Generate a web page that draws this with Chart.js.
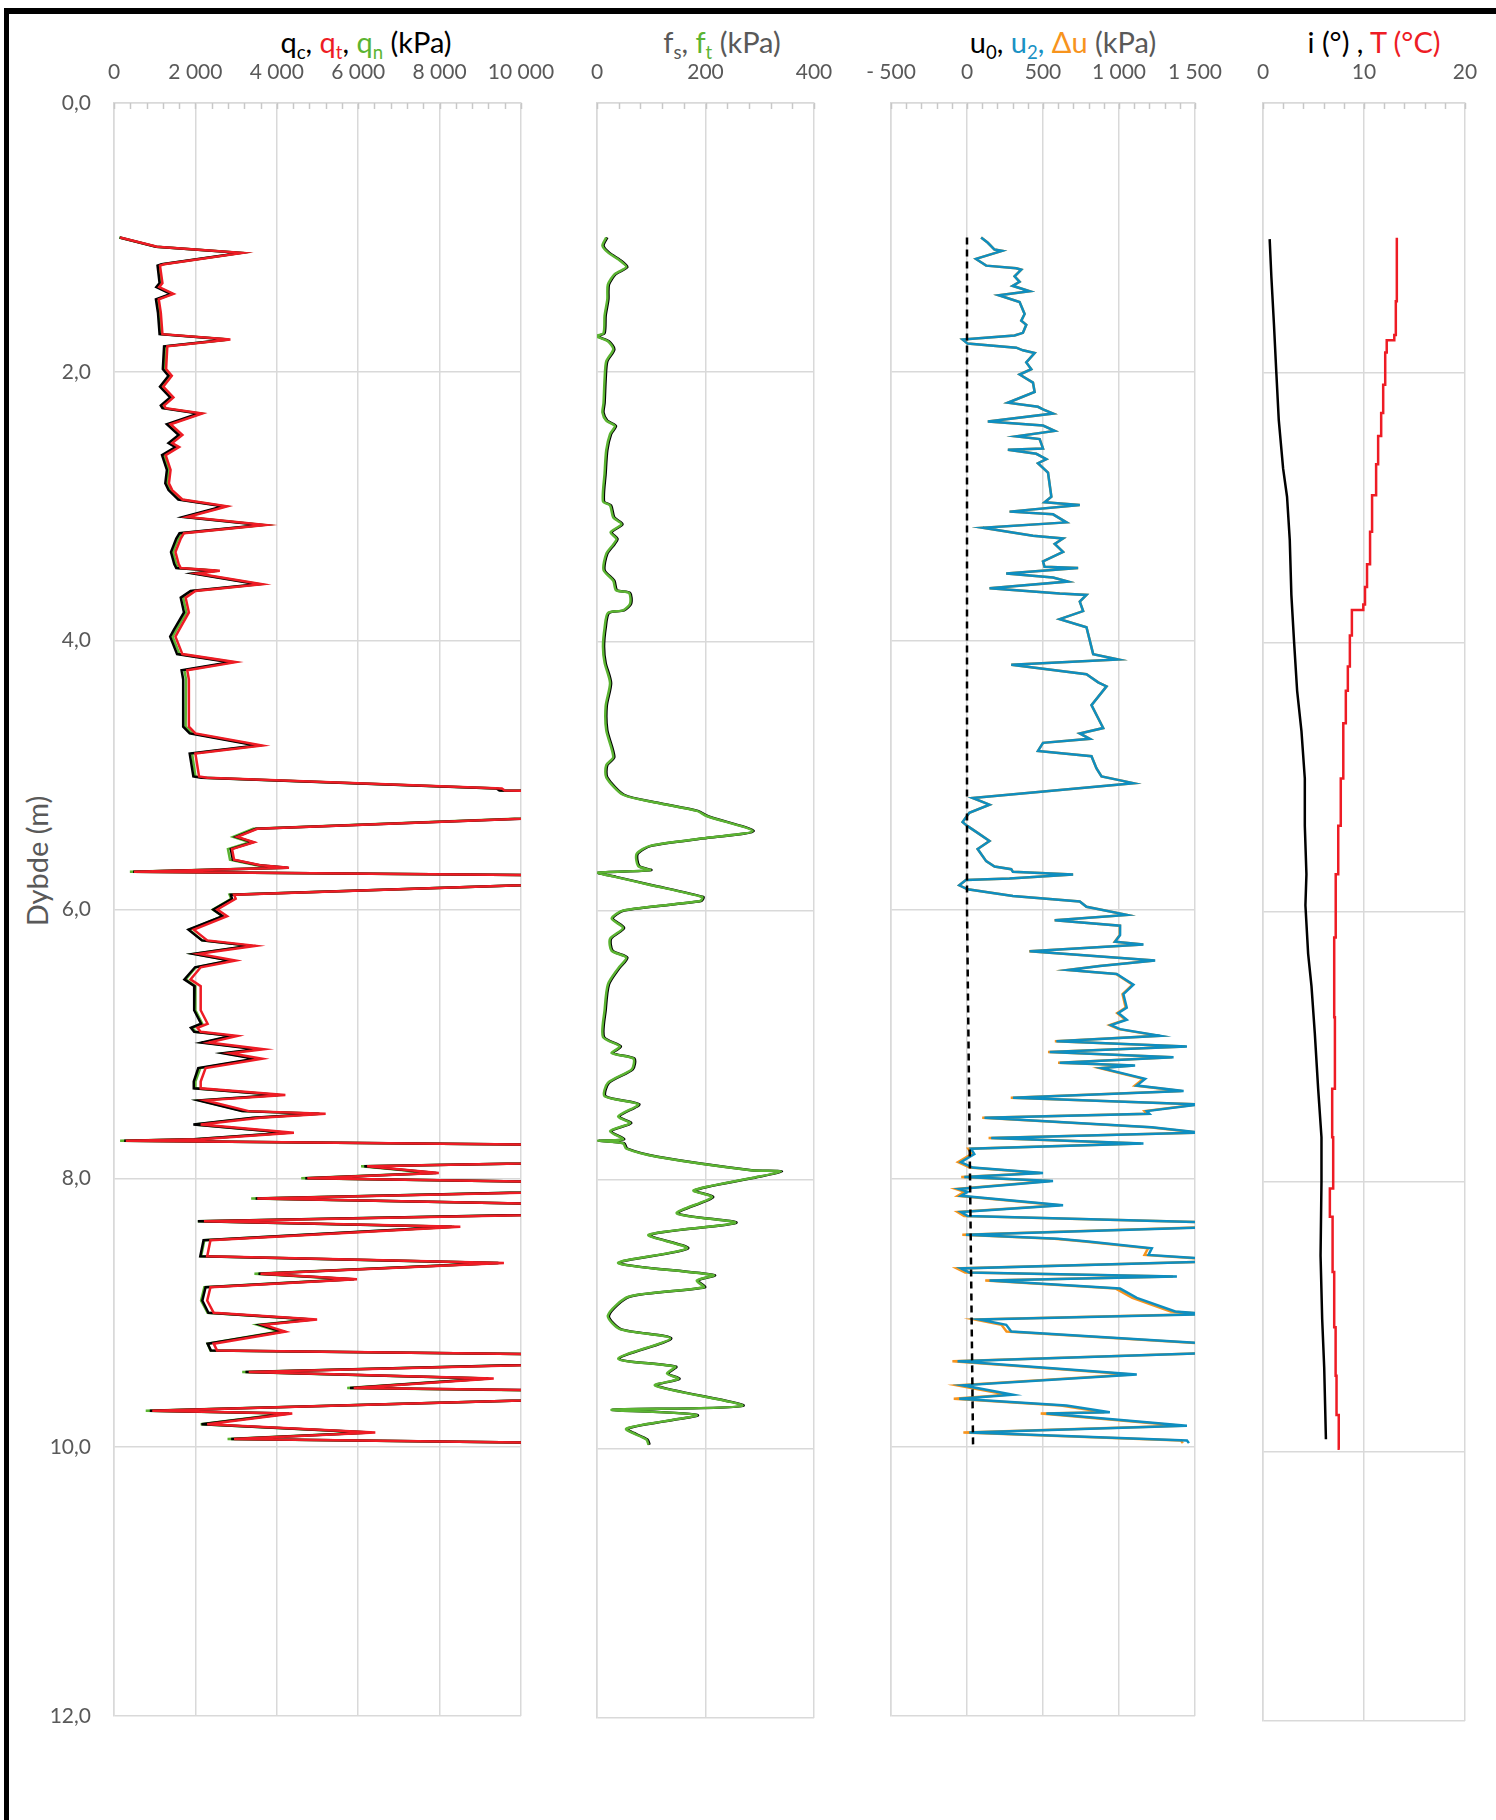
<!DOCTYPE html>
<html>
<head>
<meta charset="utf-8">
<script src="https://cdn.jsdelivr.net/npm/chart.js@4.4.1/dist/chart.umd.min.js"></script>
<style>
  html, body { margin: 0; padding: 0; background: #fff; }
  body { width: 1496px; height: 1820px; position: relative; overflow: hidden; font-family: Lato, "Open Sans", sans-serif; }
  .frame { position: absolute; left: 4px; top: 8px; width: 3000px; height: 3000px; border-left: 5px solid #000; border-top: 6px solid #000; }
  canvas { position: absolute; top: 0; }
  .ttl { position: absolute; top: 25px; font-size: 29px; line-height: 34px; white-space: nowrap; transform: translateX(-50%); color: #000; }
  .ttl sub { font-size: 0.64em; vertical-align: -0.32em; line-height: 0; }
  .gray { color: #595959; }
  .red { color: #ee1c25; }
  .green { color: #5bb432; }
  .blue { color: #1a91c4; }
  .orange { color: #f7941d; }
  .ylab { position: absolute; left: 36px; top: 861px; transform: translate(-50%, -50%) rotate(-90deg); font-size: 29px; color: #595959; white-space: nowrap; }
</style>
</head>
<body>
<div class="frame"></div>

<div class="ttl" style="left:366px">q<sub>c</sub>, <span class="red">q<sub>t</sub></span>, <span class="green">q<sub>n</sub></span> (kPa)</div>
<div class="ttl gray" style="left:722px">f<sub>s</sub>, <span class="green">f<sub>t</sub></span> (kPa)</div>
<div class="ttl gray" style="left:1063px"><span style="color:#000">u<sub>0</sub>,</span> <span class="blue">u<sub>2</sub>,</span> <span class="orange">Δu</span> (kPa)</div>
<div class="ttl" style="left:1374px">i (°) , <span class="red">T (°C)</span></div>
<div class="ylab">Dybde (m)</div>

<canvas id="qChart" width="576" height="1760" style="left:0px"></canvas>
<canvas id="fChart" width="300" height="1760" style="left:557px"></canvas>
<canvas id="uChart" width="400" height="1760" style="left:843px"></canvas>
<canvas id="iChart" width="278" height="1760" style="left:1222px"></canvas>

<script>
// tick labels
var depthTicks = ["0,0", "2,0", "4,0", "6,0", "8,0", "10,0", "12,0"];
var qTicks = ["0", "2 000", "4 000", "6 000", "8 000", "10 000"];
var fTicks = ["0", "200", "400"];
var uTicks = ["- 500", "0", "500", "1 000", "1 500"];
var iTicks = ["0", "10", "20"];

// cone resistance (kPa) vs depth (m)
var qDepth = [1.00, 1.07, 1.09, 1.115, 1.20, 1.21, 1.34, 1.37, 1.42, 1.46, 1.56, 1.72, 1.76, 1.81, 1.98, 2.03, 2.11, 2.19, 2.25, 2.27,
  2.31, 2.39, 2.47, 2.53, 2.56, 2.62, 2.73, 2.83, 2.88, 2.95, 3.00, 3.02, 3.08, 3.14, 3.20, 3.24, 3.34, 3.43, 3.46, 3.48,
  3.50, 3.58, 3.63, 3.68, 3.79, 3.92, 3.97, 4.10, 4.16, 4.22, 4.29, 4.64, 4.69, 4.78, 4.84, 5.01, 5.02, 5.10, 5.115, 5.125,
  5.29, 5.40, 5.46, 5.50, 5.55, 5.63, 5.67, 5.69, 5.72, 5.75, 5.79, 5.89, 5.92, 6.00, 6.05, 6.15, 6.23, 6.27, 6.33, 6.38,
  6.43, 6.52, 6.57, 6.75, 6.85, 6.88, 6.91, 6.94, 6.99, 7.04, 7.07, 7.11, 7.18, 7.28, 7.33, 7.38, 7.42, 7.50, 7.52, 7.55,
  7.60, 7.66, 7.71, 7.72, 7.76, 7.87, 7.91, 7.96, 8.00, 8.04, 8.08, 8.15, 8.21, 8.25, 8.32, 8.36, 8.46, 8.58, 8.63, 8.71,
  8.75, 8.81, 8.91, 9.00, 9.05, 9.09, 9.14, 9.23, 9.28, 9.32, 9.36, 9.44, 9.49, 9.56, 9.59, 9.62, 9.73, 9.75, 9.83, 9.89,
  9.94, 9.98];
var qt = [150, 1060, 2000, 3150, 1230, 1130, 1190, 1110, 1460, 1100, 1150, 1190, 2860, 1310, 1280, 1420, 1210, 1460, 1230, 1270,
  2170, 1390, 1680, 1430, 1600, 1270, 1390, 1350, 1430, 1680, 2780, 2540, 1800, 3720, 1720, 1640, 1510, 1590, 1640, 2600,
  2050, 3640, 2000, 1760, 1840, 1600, 1510, 1680, 2990, 1800, 1840, 1840, 2000, 3640, 2000, 2090, 2290, 9530, 9600, 13000,
  13000, 3520, 3030, 3440, 2900, 2950, 3600, 4300, 490, 13000, 13000, 2950, 2990, 2540, 2780, 1960, 2290, 3480, 2090, 2990,
  2130, 1880, 2130, 2130, 2300, 2050, 2130, 3030, 2330, 3680, 2860, 3640, 2250, 2130, 2130, 4210, 2250, 3310, 5200, 3600,
  2130, 4420, 2130, 290, 14000, 14000, 6220, 7980, 4750, 14000, 14000, 3520, 14000, 14000, 2210, 8510, 2370, 2290, 9580, 3600,
  5970, 2370, 2290, 2450, 4990, 3680, 4210, 2450, 2530, 14000, 14000, 3310, 9330, 5890, 14000, 14000, 940, 4380, 2290, 6420,
  2950, 14000];
var qc = [140, 1030, 1960, 3100, 1170, 1070, 1120, 1040, 1390, 1030, 1080, 1120, 2800, 1230, 1200, 1340, 1130, 1380, 1150, 1190,
  2080, 1300, 1590, 1340, 1510, 1180, 1300, 1260, 1340, 1580, 2680, 2440, 1700, 3620, 1610, 1530, 1400, 1480, 1530, 2490,
  1940, 3530, 1880, 1640, 1720, 1470, 1380, 1550, 2850, 1660, 1700, 1700, 1860, 3500, 1860, 1950, 2150, 9400, 9470, 12900,
  12950, 3490, 3000, 3410, 2870, 2920, 3570, 4270, 470, 12950, 12950, 2870, 2900, 2440, 2670, 1830, 2160, 3340, 1950, 2850,
  1990, 1730, 1980, 1970, 2140, 1890, 1970, 2870, 2150, 3500, 2680, 3460, 2070, 1960, 1960, 4030, 2080, 3140, 5030, 3420,
  1950, 4240, 1960, 250, 13900, 13900, 6150, 7920, 4700, 13900, 13900, 3480, 13900, 13900, 2060, 8300, 2200, 2120, 9450, 3550,
  5900, 2250, 2170, 2320, 4880, 3600, 4130, 2300, 2380, 13900, 13900, 3230, 9200, 5800, 13900, 13900, 880, 4300, 2150, 6320,
  2880, 13900];
var qn = [130, 1040, 1980, 3120, 1200, 1100, 1160, 1080, 1430, 1070, 1120, 1160, 2830, 1270, 1240, 1380, 1170, 1420, 1190, 1230,
  2130, 1350, 1640, 1390, 1560, 1230, 1340, 1300, 1380, 1630, 2730, 2490, 1750, 3670, 1660, 1580, 1450, 1530, 1580, 2540,
  1990, 3580, 1940, 1700, 1780, 1530, 1440, 1610, 2920, 1730, 1770, 1760, 1920, 3560, 1920, 2000, 2200, 9440, 9510, 12900,
  12900, 3420, 2930, 3340, 2800, 2850, 3500, 4200, 390, 12900, 12900, 2840, 2880, 2430, 2670, 1850, 2170, 3360, 1970, 2870,
  2010, 1760, 2000, 2000, 2170, 1920, 2000, 2900, 2200, 3550, 2730, 3510, 2120, 2000, 2000, 4070, 2110, 3170, 5060, 3460,
  1990, 4270, 1990, 150, 13850, 13850, 6070, 7830, 4600, 13850, 13850, 3370, 13850, 13850, 2060, 8360, 2220, 2140, 9430, 3450,
  5820, 2220, 2140, 2300, 4840, 3530, 4060, 2300, 2370, 13850, 13850, 3150, 9170, 5730, 13850, 13850, 780, 4220, 2130, 6260,
  2790, 13850];

// sleeve friction (kPa)
var fDepth = [1.00, 1.06, 1.11, 1.17, 1.22, 1.27, 1.35, 1.46, 1.58, 1.71, 1.73, 1.74, 1.77, 1.83, 1.92, 2.05, 2.23, 2.30, 2.36, 2.40,
  2.46, 2.58, 2.75, 2.96, 2.99, 3.08, 3.13, 3.19, 3.24, 3.28, 3.35, 3.47, 3.55, 3.62, 3.64, 3.72, 3.77, 3.79, 3.90, 4.04,
  4.16, 4.31, 4.48, 4.66, 4.86, 4.92, 5.01, 5.14, 5.20, 5.26, 5.30, 5.41, 5.46, 5.52, 5.58, 5.67, 5.70, 5.72, 5.75, 5.81,
  5.90, 5.93, 6.00, 6.06, 6.13, 6.21, 6.30, 6.35, 6.43, 6.55, 6.74, 6.94, 7.01, 7.06, 7.10, 7.18, 7.28, 7.38, 7.44, 7.53,
  7.58, 7.64, 7.70, 7.71, 7.73, 7.77, 7.83, 7.93, 7.94, 7.99, 8.08, 8.13, 8.25, 8.32, 8.41, 8.51, 8.62, 8.71, 8.75, 8.80,
  8.87, 9.01, 9.11, 9.18, 9.33, 9.39, 9.44, 9.48, 9.53, 9.68, 9.71, 9.75, 9.85, 9.93, 9.97];
var ft = [17, 10, 20, 42, 54, 33, 20, 19, 14, 12, 0, 2, 20, 30, 17, 14, 12, 10, 17, 33,
  24, 17, 14, 11, 24, 30, 45, 25, 36, 30, 17, 12, 30, 35, 59, 61, 48, 20, 14, 11,
  14, 24, 16, 17, 30, 17, 17, 48, 110, 184, 203, 287, 203, 98, 73, 76, 98, 0, 33, 98,
  194, 190, 48, 27, 48, 24, 27, 54, 39, 20, 14, 11, 42, 27, 67, 64, 20, 14, 76, 39,
  61, 24, 48, 0, 48, 54, 110, 283, 339, 283, 178, 212, 147, 255, 95, 166, 39, 215, 184, 197,
  58, 20, 42, 135, 39, 144, 129, 150, 107, 268, 27, 184, 54, 91, 95];
var fs = [19, 12, 22, 44, 56, 35, 22, 21, 16, 14, 2, 4, 22, 32, 19, 16, 14, 12, 19, 35,
  26, 19, 16, 13, 26, 32, 47, 27, 38, 32, 19, 14, 32, 37, 61, 63, 50, 22, 16, 13,
  16, 26, 18, 19, 32, 19, 19, 50, 112, 186, 205, 289, 205, 100, 75, 78, 100, 2, 35, 100,
  196, 192, 50, 29, 50, 26, 29, 56, 41, 22, 16, 13, 44, 29, 69, 66, 22, 16, 78, 41,
  63, 26, 50, 2, 50, 56, 112, 285, 341, 285, 180, 214, 149, 257, 97, 168, 41, 217, 186, 199,
  60, 22, 44, 137, 41, 146, 131, 152, 109, 270, 29, 186, 56, 93, 97];

// pore pressure (kPa)
var u0Depth = [1.00, 6.00, 10.00];
var u0 = [0, 0, 40];
var uDepth = [1.00, 1.04, 1.09, 1.10, 1.16, 1.21, 1.23, 1.24, 1.29, 1.33, 1.36, 1.40, 1.43, 1.48, 1.57, 1.62, 1.65, 1.71, 1.73, 1.76,
  1.79, 1.82, 1.84, 1.86, 1.93, 1.98, 2.02, 2.08, 2.15, 2.23, 2.26, 2.28, 2.31, 2.37, 2.40, 2.44, 2.48, 2.50, 2.57, 2.58,
  2.61, 2.65, 2.68, 2.75, 2.84, 2.93, 2.97, 2.99, 3.04, 3.06, 3.12, 3.16, 3.22, 3.24, 3.28, 3.34, 3.41, 3.45, 3.46, 3.50,
  3.53, 3.56, 3.61, 3.65, 3.66, 3.71, 3.78, 3.84, 3.90, 4.00, 4.10, 4.14, 4.18, 4.25, 4.31, 4.34, 4.48, 4.65, 4.69, 4.73,
  4.76, 4.82, 4.86, 4.95, 5.01, 5.06, 5.17, 5.22, 5.28, 5.35, 5.38, 5.43, 5.49, 5.55, 5.64, 5.68, 5.70, 5.72, 5.74, 5.77,
  5.78, 5.82, 5.85, 5.90, 5.94, 5.98, 6.04, 6.08, 6.12, 6.19, 6.24, 6.26, 6.31, 6.38, 6.42, 6.45, 6.48, 6.56, 6.63, 6.73,
  6.77, 6.82, 6.86, 6.89, 6.94, 6.98, 7.02, 7.06, 7.10, 7.14, 7.16, 7.18, 7.26, 7.31, 7.35, 7.40, 7.45, 7.50, 7.52, 7.55,
  7.62, 7.66, 7.70, 7.74, 7.78, 7.82, 7.88, 7.92, 7.96, 7.99, 8.02, 8.08, 8.10, 8.13, 8.20, 8.25, 8.28, 8.33, 8.36, 8.42,
  8.45, 8.47, 8.52, 8.57, 8.60, 8.62, 8.67, 8.70, 8.73, 8.76, 8.82, 8.89, 8.99, 9.01, 9.05, 9.09, 9.14, 9.23, 9.30, 9.36,
  9.46, 9.54, 9.61, 9.64, 9.69, 9.74, 9.75, 9.84, 9.89, 9.95, 9.97];
var u2 = [93, 137, 181, 231, 59, 126, 324, 357, 313, 346, 300, 412, 209, 346, 379, 357, 390, 368, 313, -29,
  4, 324, 368, 445, 390, 423, 346, 434, 445, 269, 467, 500, 566, 137, 500, 577, 324, 478, 500, 269,
  456, 522, 467, 533, 544, 555, 511, 742, 280, 566, 654, 104, 434, 632, 577, 632, 500, 510, 731, 258,
  566, 665, 148, 610, 786, 742, 764, 610, 786, 808, 830, 996, 291, 786, 863, 918, 819, 896, 742, 808,
  500, 467, 819, 852, 885, 1095, 37, 148, 15, -29, 4, 70, 148, 70, 126, 181, 291, 302, 698, 280,
  -7, -51, 4, 302, 742, 786, 1051, 577, 1007, 1007, 974, 1161, 412, 1238, 874, 665, 985, 1095, 1029, 1051,
  996, 1051, 947, 1007, 1271, 588, 1447, 544, 1359, 610, 1106, 885, 1172, 1117, 1425, 302, 1530, 1183, 1200, 115,
  1216, 1540, 159, 1161, 26, 48, -40, 37, 500, -18, 566, -51, 4, -40, 632, -40, 4, 1700, 1700, -7,
  600, 797, 1216, 1194, 1600, 1600, -40, 15, 1381, 148, 1007, 1117, 1370, 1600, 81, 258, 291, 1600, 1600, -62,
  1117, -29, 302, -51, 654, 940, 522, 1447, 15, 1447, 1460];
var du = [93, 137, 181, 231, 59, 126, 324, 357, 313, 346, 300, 412, 209, 346, 379, 357, 390, 368, 313, -29,
  4, 324, 368, 445, 390, 423, 346, 434, 445, 269, 467, 500, 566, 137, 500, 577, 324, 478, 500, 269,
  456, 522, 467, 533, 544, 555, 511, 742, 280, 566, 654, 104, 434, 632, 577, 632, 500, 510, 731, 258,
  566, 665, 148, 610, 786, 742, 764, 610, 786, 808, 830, 996, 291, 786, 863, 918, 819, 896, 742, 808,
  500, 467, 819, 852, 885, 1095, 37, 148, 15, -29, 4, 70, 148, 70, 126, 181, 291, 302, 698, 280,
  -7, -51, 4, 302, 742, 786, 1051, 576, 1006, 1005, 972, 1158, 409, 1234, 870, 660, 980, 1089, 1023, 1044,
  988, 1043, 938, 998, 1262, 578, 1437, 533, 1348, 599, 1094, 873, 1159, 1104, 1411, 288, 1515, 1168, 1185, 100,
  1200, 1523, 142, 1144, 8, 30, -59, 18, 480, -38, 546, -72, -17, -61, 610, -62, -19, 1677, 1676, -31,
  575, 772, 1191, 1168, 1574, 1574, -67, -12, 1354, 120, 979, 1088, 1340, 1570, 51, 227, 260, 1568, 1567, -96,
  1082, -64, 266, -87, 617, 903, 485, 1409, -24, 1407, 1420];

// inclination (deg) and temperature (degC)
var iDepth = [1.01, 1.29, 1.65, 2.00, 2.35, 2.71, 2.92, 3.24, 3.65, 4.00, 4.36, 4.66, 5.01, 5.36, 5.72, 5.95, 6.31, 6.55, 6.90, 7.31,
  7.67, 8.00, 8.55, 9.02, 9.38, 9.91];
var incl = [0.66, 0.83, 1.09, 1.32, 1.56, 1.99, 2.38, 2.65, 2.81, 3.08, 3.38, 3.81, 4.14, 4.14, 4.30, 4.20, 4.47, 4.80, 5.13, 5.46,
  5.79, 5.79, 5.70, 5.86, 6.06, 6.23];
var tDepth = [1.00, 1.47, 1.72, 1.76, 1.85, 2.09, 2.30, 2.47, 2.68, 2.91, 3.18, 3.42, 3.59, 3.72, 3.76, 3.95, 4.18, 4.36, 4.60, 5.01,
  5.36, 5.72, 6.19, 6.78, 7.31, 7.67, 8.05, 8.26, 8.67, 9.08, 9.44, 9.73, 9.98];
var temp = [13.25, 13.15, 13.0, 12.25, 12.1, 11.9, 11.7, 11.4, 11.2, 10.8, 10.6, 10.3, 10.1, 9.93, 8.8, 8.6, 8.4, 8.2, 7.95, 7.7,
  7.45, 7.2, 7.05, 7.12, 6.85, 6.95, 6.62, 6.89, 7.05, 7.19, 7.28, 7.5, 7.6];

Chart.defaults.font.family = "Lato, 'Open Sans', sans-serif";

function xy(depths, values) {
  return depths.map(function (d, i) {
    return { x: values[i], y: d };
  });
}

function line(depths, values, color, width, extra) {
  var ds = {
    data: xy(depths, values),
    showLine: true,
    borderColor: color,
    borderWidth: width,
    pointRadius: 0,
    fill: false,
  };
  return Object.assign(ds, extra || {});
}

// small inward ticks along the top edge of each panel
var minorTicks = {
  id: "minorTicks",
  beforeDatasetsDraw: function (chart, args, opts) {
    var x = chart.scales.x;
    var top = chart.chartArea.top;
    var c = chart.ctx;
    c.save();
    c.strokeStyle = "#c8c8c8";
    c.lineWidth = 1.5;
    for (var v = x.min; v <= x.max + 1e-9; v += opts.step) {
      var px = Math.round(x.getPixelForValue(v)) + 0.5;
      c.beginPath();
      c.moveTo(px, top);
      c.lineTo(px, top + 6);
      c.stroke();
    }
    c.restore();
  },
};

function drawPanel(canvasId, p) {
  var ctx = document.getElementById(canvasId);
  new Chart(ctx, {
    type: "scatter",
    data: { datasets: p.datasets },
    options: {
      responsive: false,
      animation: false,
      events: [],
      layout: { padding: p.padding },
      plugins: {
        legend: { display: false },
        tooltip: { enabled: false },
        minorTicks: { step: p.minor },
      },
      scales: {
        x: {
          type: "linear",
          position: "top",
          min: p.min,
          max: p.max,
          afterFit: function (s) { s.height = 103; },
          grid: { color: "#d9d9d9", lineWidth: 1.5, drawTicks: false },
          border: { color: "#d9d9d9", width: 1.5 },
          ticks: {
            stepSize: p.step,
            padding: 18,
            autoSkip: false,
            maxRotation: 0,
            color: "#595959",
            font: { size: 21 },
            callback: function (v) { return p.labels[Math.round((v - p.min) / p.step)]; },
          },
        },
        y: {
          type: "linear",
          reverse: true,
          min: 0,
          max: 12,
          afterFit: function (s) { s.width = p.yWidth; },
          grid: { color: "#d9d9d9", lineWidth: 1.5, drawTicks: false },
          border: { color: "#d9d9d9", width: 1.5 },
          ticks: {
            display: p.yWidth > 0,
            stepSize: 2,
            padding: 23,
            color: "#595959",
            font: { size: 21 },
            callback: function (v) { return depthTicks[Math.round(v / 2)]; },
          },
        },
      },
    },
    plugins: [minorTicks],
  });
}

drawPanel("qChart", {
  min: 0, max: 10000, step: 2000, minor: 400, labels: qTicks, yWidth: 114,
  padding: { left: 0, right: 55, top: 0, bottom: 44 },
  datasets: [
    line(qDepth, qt, "#ee1c25", 2.5),
    line(qDepth, qc, "#000000", 2.5),
    line(qDepth, qn, "#5bb432", 2.5),
  ],
});

drawPanel("fChart", {
  min: 0, max: 400, step: 200, minor: 40, labels: fTicks, yWidth: 0,
  padding: { left: 40, right: 43, top: 0, bottom: 42 },
  datasets: [
    line(fDepth, ft, "#5bb432", 2.5, { tension: 0.25 }),
    line(fDepth, fs, "#000000", 2.5, { tension: 0.25 }),
  ],
});

drawPanel("uChart", {
  min: -500, max: 1500, step: 500, minor: 100, labels: uTicks, yWidth: 0,
  padding: { left: 48, right: 48, top: 0, bottom: 44 },
  datasets: [
    line(u0Depth, u0, "#000000", 2.5, { borderDash: [7, 5] }),
    line(uDepth, u2, "#0e8ec0", 2.5),
    line(uDepth, du, "#f7941d", 2.5),
  ],
});

drawPanel("iChart", {
  min: 0, max: 20, step: 10, minor: 2, labels: iTicks, yWidth: 0,
  padding: { left: 41, right: 35, top: 0, bottom: 39 },
  datasets: [
    line(iDepth, incl, "#000000", 2.5),
    line(tDepth, temp, "#ee1c25", 2.5, { stepped: "after" }),
  ],
});
</script>
</body>
</html>
